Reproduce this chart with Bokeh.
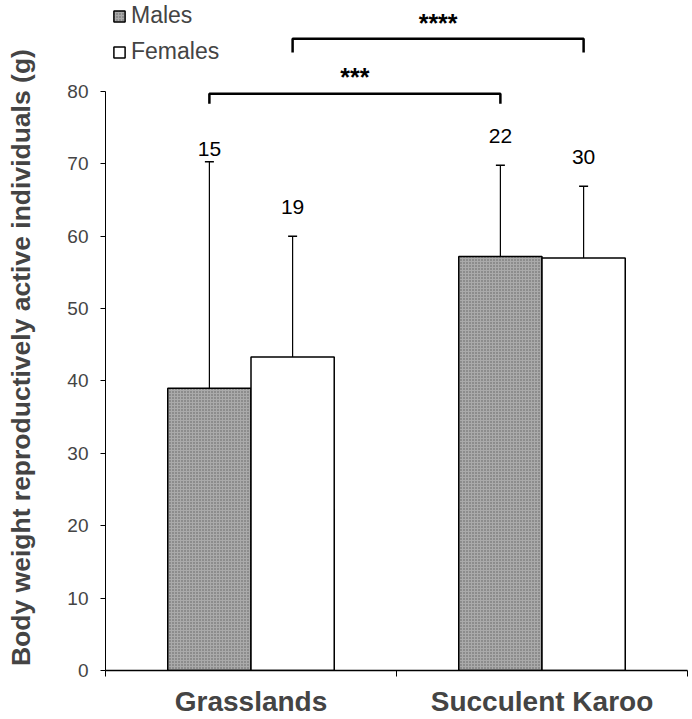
from bokeh.plotting import figure
from bokeh.models import (ColumnDataSource, FixedTicker, Whisker, TeeHead, Legend,
                          LegendItem, Range1d)
from bokeh.transform import dodge
from bokeh.core.properties import value
from bokeh.embed import file_html
from bokeh.resources import INLINE

# ---- data ----
categories = ["Grasslands", "Succulent Karoo"]
cat_x = [0.5, 1.5]
males_mean = [39.0, 57.2]
males_low = [23.6, 41.2]
males_high = [70.3, 69.8]
males_n = ["15", "22"]
males_n_y = [72.1, 73.9]
females_mean = [43.3, 57.0]
females_low = [25.4, 44.3]
females_high = [60.0, 66.9]
females_n = ["19", "30"]
females_n_y = [64.0, 71.0]
y_ticks = [0, 10, 20, 30, 40, 50, 60, 70, 80]
sig_labels = ["***", "****"]
sig_series = ["Males", "Females"]
sig_height = [79.7, 87.3]
sig_drop = [1.4, 1.9]
sig_label_y = [82.0, 89.4]
y_title = "Body weight reproductively active individuals (g)"

FONT = "Liberation Sans"
BAR_W = 0.286
OFF = {"Males": -0.143, "Females": 0.143}

p = figure(width=690, height=719, output_backend="svg", toolbar_location=None,
           x_range=Range1d(0, 2), y_range=Range1d(0, 92.57),
           min_border_left=105, min_border_right=3, min_border_top=0,
           min_border_bottom=49)
p.outline_line_color = None
p.xgrid.visible = False
p.ygrid.visible = False
p.background_fill_color = "white"

ms = ColumnDataSource(dict(x=cat_x, top=males_mean, low=males_low, high=males_high,
                           n=males_n, ny=males_n_y))
fs = ColumnDataSource(dict(x=cat_x, top=females_mean, low=females_low, high=females_high,
                           n=females_n, ny=females_n_y))

rm = p.vbar(x=dodge("x", OFF["Males"], range=p.x_range), top="top", bottom=0,
            width=BAR_W, source=ms, fill_color="#aaaaaa", line_color="black",
            line_width=1.5, hatch_pattern="dot", hatch_color="#5e5e5e",
            hatch_scale=3, hatch_weight=1)
rf = p.vbar(x=dodge("x", OFF["Females"], range=p.x_range), top="top", bottom=0,
            width=BAR_W, source=fs, fill_color="white", line_color="black",
            line_width=1.5)

for src, key in ((ms, "Males"), (fs, "Females")):
    w = Whisker(source=src, base=dodge("x", OFF[key], range=p.x_range),
                upper="high", lower="low", line_color="black", line_width=1.2,
                upper_head=TeeHead(size=9, line_color="black", line_width=1.5),
                lower_head=TeeHead(size=9, line_color="black", line_width=1.5))
    p.add_layout(w)
    p.text(x=dodge("x", OFF[key], range=p.x_range), y="ny", text="n", source=src,
           text_align="center", text_baseline="middle",
           text_font=value(FONT), text_font_size="21px", text_color="black")

# significance brackets
xs, ys, lx = [], [], []
for key, h, d in zip(sig_series, sig_height, sig_drop):
    x0 = cat_x[0] + OFF[key]
    x1 = cat_x[1] + OFF[key]
    xs.append([x0, x0, x1, x1])
    ys.append([h - d, h, h, h - d])
    lx.append((x0 + x1) / 2)
p.multi_line(xs=xs, ys=ys, line_color="black", line_width=2.5)
p.text(x=lx, y=sig_label_y, text=sig_labels, text_align="center",
       text_baseline="middle", text_font=value(FONT), text_font_size="25px",
       text_font_style="bold", text_color="black")

# y axis
ya = p.yaxis[0]
ya.ticker = FixedTicker(ticks=y_ticks)
ya.bounds = (y_ticks[0], y_ticks[-1])
ya.axis_label = y_title + "\u00a0" * 6
ya.axis_label_text_font = FONT
ya.axis_label_text_font_style = "bold"
ya.axis_label_text_font_size = "26.5px"
ya.axis_label_standoff = 28
ya.major_label_text_font = FONT
ya.major_label_text_font_size = "19px"
ya.major_label_standoff = 12
ya.major_tick_out = 5
ya.major_tick_in = 0
ya.minor_tick_line_color = None
ya.axis_line_color = "black"
ya.axis_line_width = 1

# x axis
xa = p.xaxis[0]
xa.ticker = FixedTicker(ticks=cat_x, minor_ticks=[0, 1, 2])
xa.major_label_overrides = {cx: c for cx, c in zip(cat_x, categories)}
xa.major_label_text_font = FONT
xa.major_label_text_font_style = "bold"
xa.major_label_text_font_size = "28px"
xa.major_label_standoff = 9
xa.major_tick_line_color = None
xa.major_tick_out = 0
xa.major_tick_in = 0
xa.minor_tick_out = 6
xa.minor_tick_in = 0
xa.minor_tick_line_color = "black"
xa.axis_line_color = "black"
xa.axis_line_width = 1.5

legend = Legend(items=[LegendItem(label="Males", renderers=[rm]),
                       LegendItem(label="Females", renderers=[rf])],
                location=(7, 605), padding=0, margin=0, spacing=9,
                glyph_width=14, glyph_height=14, label_height=14,
                label_standoff=5, label_text_font=FONT,
                label_text_font_size="23px", border_line_color=None,
                background_fill_alpha=0)
p.add_layout(legend)

open("out.html", "w").write(file_html(p, INLINE))
